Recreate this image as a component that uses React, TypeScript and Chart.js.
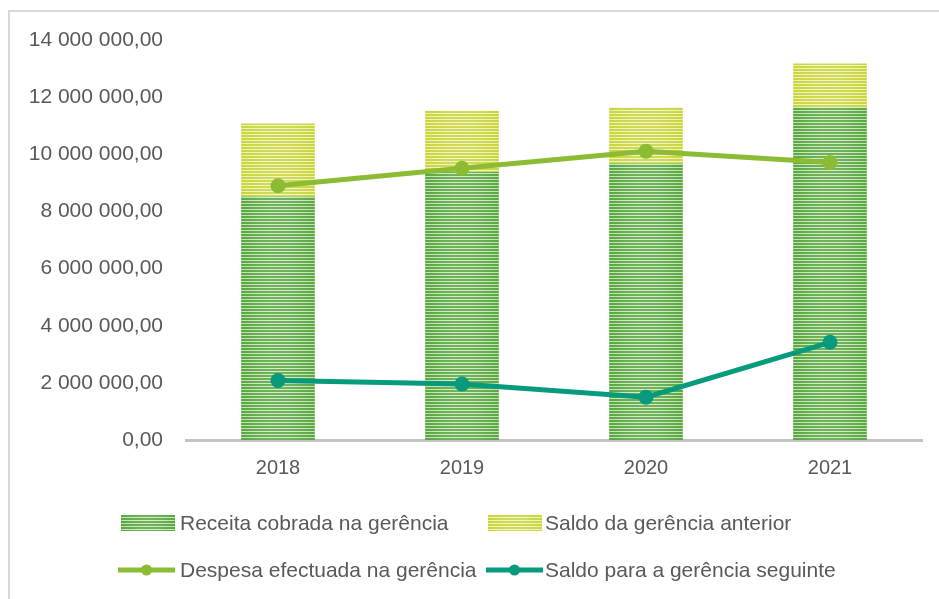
import React, { useEffect, useRef } from "react";
import { Chart, registerables } from "chart.js";

Chart.register(...registerables);

const years = ["2018", "2019", "2020", "2021"];
const receita = [8520000, 9380000, 9680000, 11640000];
const saldoAnterior = [2560000, 2140000, 1960000, 1540000];
const despesa = [8900000, 9510000, 10110000, 9710000];
const saldoSeguinte = [2080000, 1960000, 1500000, 3420000];
const seriesLabels = [
  "Receita cobrada na gerência",
  "Saldo da gerência anterior",
  "Despesa efectuada na gerência",
  "Saldo para a gerência seguinte",
];
const yMin = 0;
const yMax = 14000000;
const yStep = 2000000;

const FONT = "'Liberation Sans', Arial, sans-serif";
const TEXT = "#595959";
const LINE_GREEN = "#8cbb34";
const LINE_TEAL = "#079a7c";

type RGB = [number, number, number];
type Spec = { dark: RGB; light: RGB };
const GREEN: Spec = { dark: [88, 166, 64], light: [190, 224, 172] };
const YELLOW: Spec = { dark: [200, 212, 60], light: [236, 242, 172] };

function fmt(v: number): string {
  const [i, d] = v.toFixed(2).split(".");
  return i.replace(/\B(?=(\d{3})+(?!\d))/g, " ") + "," + d;
}

const patternCache = new Map<string, CanvasPattern>();

function makeStripeCanvas(spec: Spec, W: number, half: number) {
  const H = 3;
  const cv = document.createElement("canvas");
  cv.width = W;
  cv.height = H;
  const g = cv.getContext("2d")!;
  const img = g.createImageData(W, H);
  for (let y = 0; y < H; y++) {
    for (let x = 0; x < W; x++) {
      const dx = half > 0 ? Math.abs(x + 0.5 - W / 2) / half : 1;
      const f = dx >= 1 ? 0 : 0.35 * (1 - dx * dx);
      const base = y < 2 ? spec.dark : spec.light;
      const ff = y < 2 ? f * 0.4 : f;
      const idx = (y * W + x) * 4;
      for (let c = 0; c < 3; c++) img.data[idx + c] = Math.round(base[c] + (255 - base[c]) * ff);
      img.data[idx + 3] = 255;
    }
  }
  g.putImageData(img, 0, 0);
  return cv;
}

function barPattern(chart: any, spec: Spec, key: string): any {
  const xs = chart.scales && chart.scales.x;
  if (!xs || !isFinite(xs.getPixelForValue(0))) return `rgb(${spec.dark.join(",")})`;
  const c0 = xs.getPixelForValue(0);
  const W = Math.max(2, Math.round(xs.getPixelForValue(1) - c0));
  const half = (W * 0.4) / 2;
  const k = `${key}-${c0}-${W}`;
  let p = patternCache.get(k);
  if (!p) {
    const cv = makeStripeCanvas(spec, W, half);
    p = chart.ctx.createPattern(cv, "repeat")!;
    p.setTransform(new DOMMatrix([1, 0, 0, 1, c0 - W / 2, 0]));
    patternCache.set(k, p);
  }
  return p;
}

const legendPlugin = {
  id: "customLegend",
  afterDraw(chart: any) {
    const ctx: CanvasRenderingContext2D = chart.ctx;
    const items = [
      { kind: "box", spec: GREEN, x: 121, y: 523, tx: 180, label: chart.data.datasets[0].label },
      { kind: "box", spec: YELLOW, x: 488, y: 523, tx: 545, label: chart.data.datasets[1].label },
      { kind: "line", color: LINE_GREEN, x: 118, y: 570, tx: 180, label: chart.data.datasets[2].label },
      { kind: "line", color: LINE_TEAL, x: 486, y: 570, tx: 545, label: chart.data.datasets[3].label },
    ];
    ctx.save();
    for (const it of items as any[]) {
      if (it.kind === "box") {
        const cv = makeStripeCanvas(it.spec, 54, 27);
        const p = ctx.createPattern(cv, "repeat")!;
        p.setTransform(new DOMMatrix([1, 0, 0, 1, it.x, it.y - 8]));
        ctx.fillStyle = p;
        ctx.fillRect(it.x, it.y - 8, 54, 16);
      } else {
        ctx.strokeStyle = it.color;
        ctx.lineWidth = 5;
        ctx.beginPath();
        ctx.moveTo(it.x, it.y);
        ctx.lineTo(it.x + 57, it.y);
        ctx.stroke();
        ctx.fillStyle = it.color;
        ctx.beginPath();
        ctx.arc(it.x + 28.5, it.y, 5.5, 0, Math.PI * 2);
        ctx.fill();
      }
      ctx.fillStyle = TEXT;
      ctx.font = `21px ${FONT}`;
      ctx.textBaseline = "middle";
      ctx.textAlign = "left";
      ctx.fillText(it.label, it.tx, it.y + 1);
    }
    ctx.restore();
  },
};

export default function App() {
  const ref = useRef<HTMLCanvasElement>(null);
  useEffect(() => {
    document.body.style.margin = "0";
    const canvas = ref.current!;
    const chart = new Chart(canvas, {
      type: "bar",
      data: {
        labels: years,
        datasets: [
          {
            type: "bar",
            label: seriesLabels[0],
            data: receita,
            stack: "bars",
            order: 2,
            borderWidth: 0,
            backgroundColor: (c: any) => barPattern(c.chart, GREEN, "g"),
            categoryPercentage: 0.8,
            barPercentage: 0.5,
          } as any,
          {
            type: "bar",
            label: seriesLabels[1],
            data: saldoAnterior,
            stack: "bars",
            order: 2,
            borderWidth: 0,
            backgroundColor: (c: any) => barPattern(c.chart, YELLOW, "y"),
            categoryPercentage: 0.8,
            barPercentage: 0.5,
          } as any,
          {
            type: "line",
            label: seriesLabels[2],
            data: despesa,
            stack: "l1",
            order: 0,
            borderColor: LINE_GREEN,
            backgroundColor: LINE_GREEN,
            borderWidth: 5,
            pointRadius: 7.5,
            pointHoverRadius: 7.5,
            pointBorderWidth: 0,
            tension: 0,
            clip: false,
          } as any,
          {
            type: "line",
            label: seriesLabels[3],
            data: saldoSeguinte,
            stack: "l2",
            order: 1,
            borderColor: LINE_TEAL,
            backgroundColor: LINE_TEAL,
            borderWidth: 5,
            pointRadius: 7.5,
            pointHoverRadius: 7.5,
            pointBorderWidth: 0,
            tension: 0,
            clip: false,
          } as any,
        ],
      },
      options: {
        responsive: false,
        devicePixelRatio: 1,
        animation: false,
        layout: { padding: { left: 0, right: 17, top: 40, bottom: 99 } },
        plugins: { legend: { display: false }, tooltip: { enabled: false } },
        scales: {
          x: {
            stacked: true,
            grid: { display: false, drawTicks: false },
            border: { display: true, color: "#c4c4c4", width: 3 },
            ticks: { color: TEXT, font: { family: FONT, size: 20 }, padding: 16 },
            afterFit: (s: any) => {
              s.height = 60;
            },
          },
          y: {
            stacked: true,
            min: yMin,
            max: yMax,
            grid: { display: false, drawTicks: false },
            border: { display: false },
            ticks: {
              stepSize: yStep,
              color: TEXT,
              font: { family: FONT, size: 21 },
              padding: 23,
              callback: (v: any) => fmt(Number(v)),
            },
            afterFit: (s: any) => {
              s.width = 186;
            },
          },
        },
      } as any,
      plugins: [legendPlugin],
    });
    return () => chart.destroy();
  }, []);

  return (
    <div style={{ position: "absolute", left: 0, top: 0, width: 939, height: 599, overflow: "hidden", background: "#fff" }}>
      <div
        style={{
          position: "absolute",
          left: 8,
          top: 10,
          width: 1000,
          height: 700,
          borderLeft: "2px solid #d9d9d9",
          borderTop: "2px solid #d9d9d9",
        }}
      />
      <canvas ref={ref} width={939} height={599} style={{ position: "absolute", left: 0, top: 0, display: "block" }} />
    </div>
  );
}
